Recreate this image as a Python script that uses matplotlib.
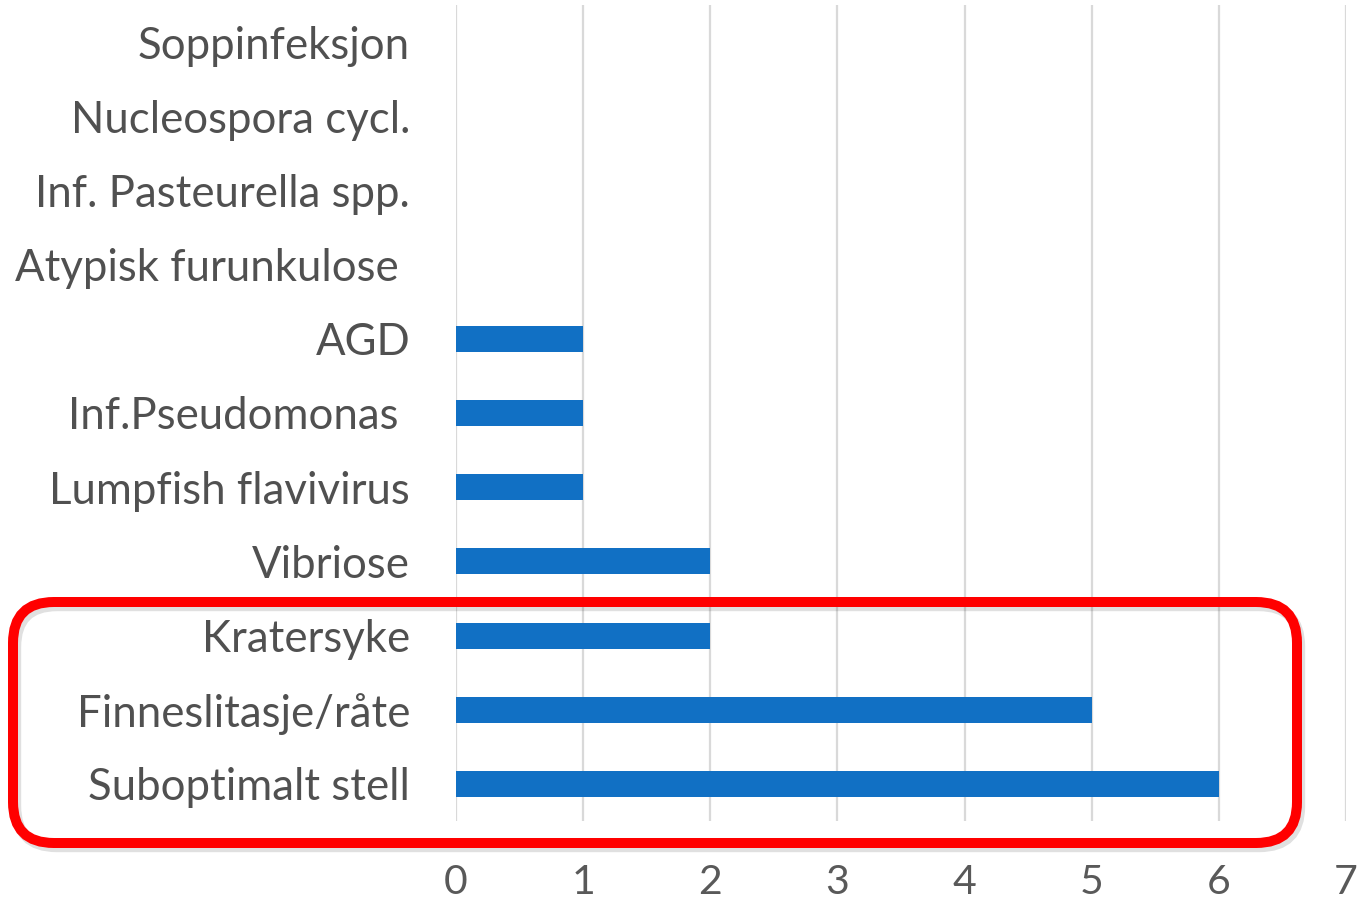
import matplotlib
matplotlib.use("Agg")
import matplotlib.pyplot as plt
from matplotlib.patches import FancyBboxPatch

categories = ["Soppinfeksjon", "Nucleospora cycl.", "Inf. Pasteurella spp.",
              "Atypisk furunkulose ", "AGD", "Inf.Pseudomonas ",
              "Lumpfish flavivirus", "Vibriose", "Kratersyke",
              "Finneslitasje/råte", "Suboptimalt stell"]
values = [0, 0, 0, 0, 1, 1, 1, 2, 2, 5, 6]
xticks = [0, 1, 2, 3, 4, 5, 6, 7]

plt.rcParams['font.family'] = ['Lato', 'DejaVu Sans']

fig = plt.figure(figsize=(13.64, 9.09), dpi=100)
ax = fig.add_axes([456/1364, 1-821/909, (1346-456)/1364, (821-5)/909])

y = list(range(len(categories)))[::-1]
ax.barh(y, values, height=0.35, color="#1170C4", zorder=3)
ax.set_xlim(0, 7)
ax.set_ylim(-0.5, len(categories)-0.5)
ax.set_xticks(xticks)
ax.set_xticklabels([str(t) for t in xticks], fontsize=29.5, color="#595959")
ax.set_yticks(y)
ax.set_yticklabels(categories, fontsize=31.5, color="#505050")
ax.tick_params(axis='y', length=0, pad=33)
ax.tick_params(axis='x', length=0, pad=31)
ax.grid(axis='x', color="#D9D9D9", linewidth=1.6, zorder=0)
for s in ax.spines.values():
    s.set_visible(False)

# red rounded highlight box (figure pixel coordinates)
W, H = 1364, 909
x0, y0, x1, y1 = 13, 602, 1297, 843
shadow = FancyBboxPatch(((x0+3)/W, 1-(y1+4)/H), (x1-x0)/W, (y1-y0)/H,
                        boxstyle="round,pad=0,rounding_size=0.03",
                        transform=fig.transFigure, fill=False,
                        edgecolor="#000000", alpha=0.12, linewidth=7.5,
                        mutation_aspect=W/H, zorder=9)
fig.add_artist(shadow)
box = FancyBboxPatch((x0/W, 1-y1/H), (x1-x0)/W, (y1-y0)/H,
                     boxstyle="round,pad=0,rounding_size=0.03",
                     transform=fig.transFigure, fill=False,
                     edgecolor="#FF0000", linewidth=7.2,
                     mutation_aspect=W/H, zorder=10)
fig.add_artist(box)

fig.savefig("out.png", dpi=100, facecolor="white")
